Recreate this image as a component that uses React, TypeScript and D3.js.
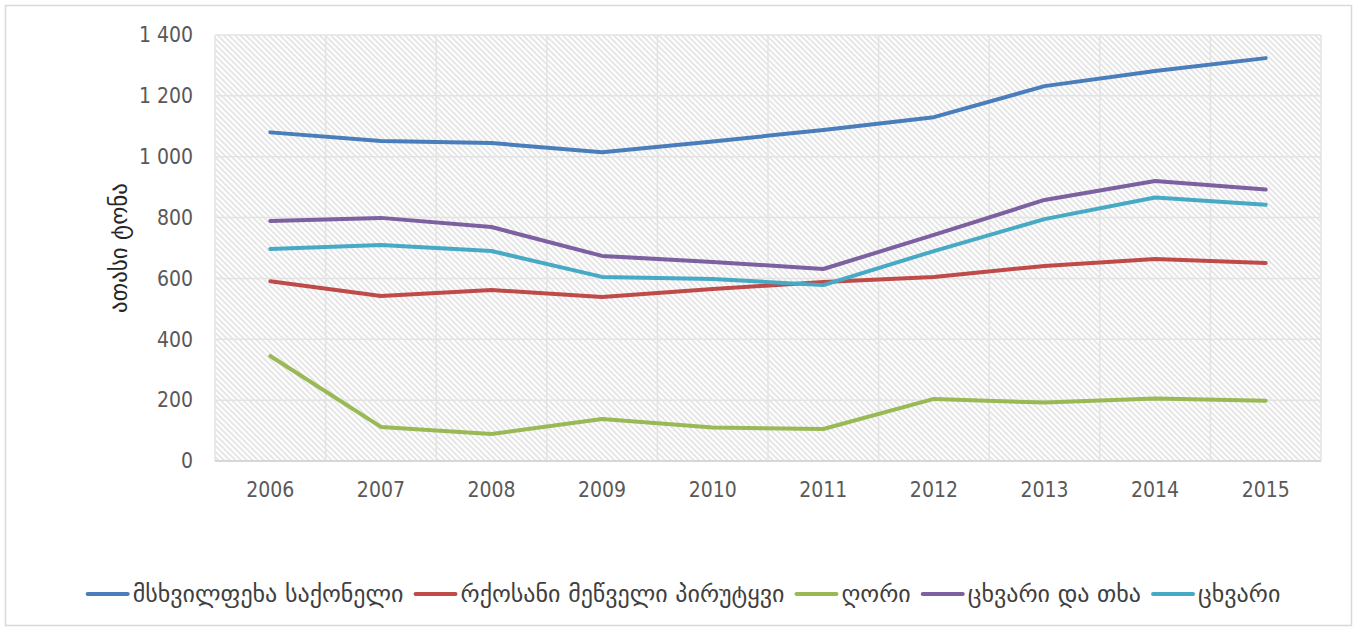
import { useRef, useEffect } from "react";
import * as d3 from "d3";

const years = ["2006", "2007", "2008", "2009", "2010", "2011", "2012", "2013", "2014", "2015"];

const cattle = [1080, 1052, 1045, 1015, 1050, 1088, 1130, 1232, 1282, 1324];
const hornedStock = [591, 542, 562, 539, 565, 588, 605, 641, 664, 651];
const pigs = [345, 112, 89, 138, 110, 105, 204, 192, 205, 198];
const sheepGoats = [789, 799, 769, 674, 654, 631, 743, 858, 920, 892];
const sheep = [697, 710, 690, 605, 598, 578, 690, 795, 866, 842];

const seriesNames = [
  "მსხვილფეხა საქონელი",
  "რქოსანი მეწველი პირუტყვი",
  "ღორი",
  "ცხვარი და თხა",
  "ცხვარი",
];
const seriesColors = ["#4A7EBB", "#BE4B48", "#98B954", "#7D60A0", "#46AAC5"];
const yTicks = [0, 200, 400, 600, 800, 1000, 1200, 1400];
const yLabel = "ათასი ტონა";

const NUM_FONT = "'Liberation Sans Narrow', 'DejaVu Sans Condensed', Arial, sans-serif";
const GEO_FONT = "'DejaVu Sans', sans-serif";

function Chart() {
  const svgRef = useRef<SVGSVGElement | null>(null);
  const width = 1357;
  const height = 628;

  useEffect(() => {
    if (!svgRef.current) return;
    const svg = d3.select(svgRef.current);
    svg.selectAll("*").remove();

    const margin = { left: 215, right: 36, top: 35, bottom: 167 };
    const series = [cattle, hornedStock, pigs, sheepGoats, sheep];

    const x = d3
      .scaleBand()
      .domain(years)
      .range([margin.left, width - margin.right])
      .padding(0);
    const y = d3
      .scaleLinear()
      .domain([0, 1400])
      .range([height - margin.bottom, margin.top]);

    // outer frame
    svg
      .append("rect")
      .attr("x", 5.5)
      .attr("y", 5.5)
      .attr("width", width - 11)
      .attr("height", height - 8)
      .attr("fill", "white")
      .attr("stroke", "#d9d9d9")
      .attr("stroke-width", 1.5);

    // hatch pattern for plot background
    const defs = svg.append("defs");
    const pat = defs
      .append("pattern")
      .attr("id", "hatch")
      .attr("patternUnits", "userSpaceOnUse")
      .attr("width", 4)
      .attr("height", 4)
      .attr("patternTransform", "rotate(-45)");
    pat
      .append("line")
      .attr("x1", 1)
      .attr("x2", 1)
      .attr("y1", 0)
      .attr("y2", 4)
      .attr("stroke", "#dcdcdc")
      .attr("stroke-width", 1.4);

    svg
      .append("rect")
      .attr("x", margin.left)
      .attr("y", margin.top)
      .attr("width", width - margin.left - margin.right)
      .attr("height", height - margin.top - margin.bottom)
      .attr("fill", "url(#hatch)");

    // grid lines
    const grid = svg.append("g").attr("stroke", "#e3e3e3").attr("stroke-width", 1.5);
    grid
      .selectAll("line.h")
      .data(yTicks)
      .join("line")
      .attr("x1", margin.left)
      .attr("x2", width - margin.right)
      .attr("y1", (d) => y(d))
      .attr("y2", (d) => y(d));
    const bounds = years.map((yr) => x(yr)!).concat([width - margin.right]);
    grid
      .selectAll("line.v")
      .data(bounds)
      .join("line")
      .attr("x1", (d) => d)
      .attr("x2", (d) => d)
      .attr("y1", margin.top)
      .attr("y2", height - margin.bottom);

    // x axis baseline
    svg
      .append("line")
      .attr("x1", margin.left)
      .attr("x2", width - margin.right)
      .attr("y1", y(0))
      .attr("y2", y(0))
      .attr("stroke", "#d0d0d0")
      .attr("stroke-width", 1.5);

    // y tick labels
    const fmt = (v: number) => (v >= 1000 ? `${Math.floor(v / 1000)} ${String(v % 1000).padStart(3, "0")}` : String(v));
    svg
      .append("g")
      .selectAll("text")
      .data(yTicks)
      .join("text")
      .attr("x", 193)
      .attr("y", (d) => y(d))
      .attr("dy", "0.35em")
      .attr("text-anchor", "end")
      .attr("font-family", NUM_FONT)
      .attr("font-size", 21)
      .attr("fill", "#595959")
      .text(fmt);

    // x tick labels
    svg
      .append("g")
      .selectAll("text")
      .data(years)
      .join("text")
      .attr("x", (d) => x(d)! + x.bandwidth() / 2)
      .attr("y", y(0) + 36)
      .attr("text-anchor", "middle")
      .attr("font-family", NUM_FONT)
      .attr("font-size", 21)
      .attr("fill", "#595959")
      .text((d) => d);

    // y axis title
    svg
      .append("text")
      .attr("transform", `translate(127, ${(margin.top + height - margin.bottom) / 2}) rotate(-90)`)
      .attr("text-anchor", "middle")
      .attr("font-family", GEO_FONT)
      .attr("font-size", 23)
      .attr("fill", "#262626")
      .text(yLabel);

    // lines
    const lineFunc = d3
      .line<number>()
      .x((_, i) => x(years[i])! + x.bandwidth() / 2)
      .y((d) => y(d));

    series.forEach((s, i) => {
      svg
        .append("path")
        .attr("fill", "none")
        .attr("stroke", seriesColors[i])
        .attr("stroke-width", 4)
        .attr("stroke-linecap", "round")
        .attr("stroke-linejoin", "round")
        .attr("d", lineFunc(s));
    });

    // legend
    const legend = svg.append("g");
    const lineLen = 40;
    const gapText = 5;
    const gapItem = 12;
    const items = seriesNames.map((name, i) => {
      const g = legend.append("g");
      g.append("line")
        .attr("x1", 0)
        .attr("x2", lineLen)
        .attr("y1", 0)
        .attr("y2", 0)
        .attr("stroke", seriesColors[i])
        .attr("stroke-width", 4)
        .attr("stroke-linecap", "round");
      const t = g
        .append("text")
        .attr("x", lineLen + gapText)
        .attr("dy", "0.35em")
        .attr("font-family", GEO_FONT)
        .attr("font-size", 24)
        .attr("fill", "#404040")
        .text(name);
      const w = (t.node() as SVGTextElement).getComputedTextLength();
      return { g, w: lineLen + gapText + w };
    });
    const total = d3.sum(items, (d) => d.w) + gapItem * (items.length - 1);
    let cx = 684 - total / 2;
    items.forEach((it) => {
      it.g.attr("transform", `translate(${cx}, 594)`);
      cx += it.w + gapItem;
    });
  }, []);

  return (
    <svg
      ref={svgRef}
      width={width}
      height={height}
      viewBox={`0 0 ${width} ${height}`}
      style={{ position: "absolute", left: 0, top: 0 }}
    ></svg>
  );
}

export default function App() {
  return <Chart />;
}
